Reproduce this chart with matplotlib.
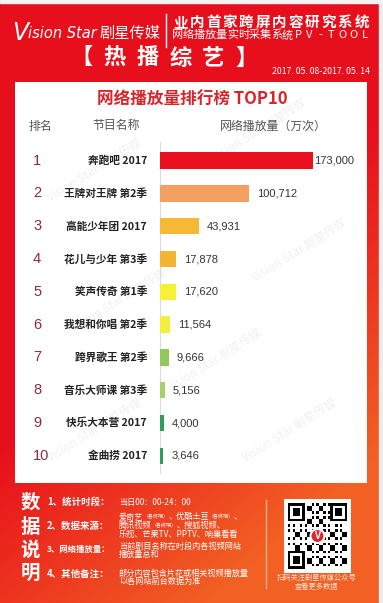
import numpy as np
import matplotlib
matplotlib.use("Agg")
import matplotlib.pyplot as plt
from matplotlib.patches import Rectangle, Circle
from matplotlib.transforms import blended_transform_factory

plt.rcParams['font.family'] = ['Noto Sans CJK SC', 'DejaVu Sans']

# ---------------- data ----------------
ranks = ["1", "2", "3", "4", "5", "6", "7", "8", "9", "10"]
shows = ["奔跑吧 2017", "王牌对王牌 第2季", "高能少年团 2017", "花儿与少年 第3季",
         "笑声传奇 第1季", "我想和你唱 第2季", "跨界歌王 第2季", "音乐大师课 第3季",
         "快乐大本营 2017", "金曲捞 2017"]
views = [173000, 100712, 43931, 17878, 17620, 11564, 9666, 5156, 4000, 3646]
bar_colors = ["#ea0f1e", "#f4a060", "#f6b935", "#f4b534", "#f6f036", "#f4ee3c",
              "#93c95a", "#a6d06c", "#2f9e5c", "#2f9e5c"]

header_cols = ["排名", "节目名称", "网络播放量（万次）"]
chart_title = "网络播放量排行榜 TOP10"
section_title = "【热播综艺】"
date_range = "2017. 05. 08-2017. 05. 14"
brand_v = "V"
brand_rest = "ision Star "
brand_cn = "剧星传媒"
slogan1 = "业内首家跨屏内容研究系统"
slogan2 = "网络播放量实时采集系统PV-TOOL"
notes_title = ["数", "据", "说", "明"]
note_labels = ["1、统计时段：", "2、数据来源：", "3、网络播放量：", "4、其他备注："]
# each line is a list of (text, is_small) runs
note_texts = [
    [[("当日00：00-24：00", False)]],
    [[("爱奇艺", False), ("（各终端）", True), ("、优酷土豆", False), ("（各终端）", True), ("、", False)],
     [("腾讯视频", False), ("（各终端）", True), ("、搜狐视频、", False)],
     [("乐视、芒果TV、PPTV、响巢看看", False)]],
    [[("当前剧目名称在时段内各视频网站", False)], [("播放量总和", False)]],
    [[("部分内容包含片花或相关视频播放量", False)], [("以各网站前台数据为准", False)]],
]
qr_caption = ["扫码关注剧星传媒公众号", "查看更多数据"]
watermark = "Vision Star 剧星传媒"

# ---------------- figure ----------------
W, H = 383, 603
fig = plt.figure(figsize=(W / 100, H / 100), dpi=100)
renderer = fig.canvas.get_renderer()


def P(x, y):
    return (x / W, 1 - y / H)


def runs(x, y, pieces, **common):
    for txt, kw in pieces:
        t = fig.text(*P(x, y), txt, ha="left", va="center", **{**common, **kw})
        x += t.get_window_extent(renderer=renderer).width
    return x


def spaced(s, x0, x1, y, **kw):
    n = len(s)
    for k, ch in enumerate(s):
        fig.text(*P(x0 + (x1 - x0) * (k + 0.5) / n, y), ch, ha="center", va="center", **kw)


# background gradient
bg = fig.add_axes([0, 0, 1, 1])
bg.set_axis_off()
yy, xx = np.mgrid[0:H, 0:W]
t = np.clip((0.55 * xx / W + yy / H - 0.75) / 0.55, 0, 1)
red = np.array([0.91, 0.06, 0.11])
orange = np.array([0.95, 0.38, 0.14])
img = red[None, None, :] * (1 - t[..., None]) + orange[None, None, :] * t[..., None]
bg.imshow(img, extent=[0, W, H, 0], aspect='auto', zorder=0)
bg.add_patch(Rectangle((379, 0), 4, H, color="#ececec", zorder=1))
bg.add_patch(Rectangle((0, 0), W, 2.5, color="#f2f2f2", zorder=1))
panel = Rectangle((15, 82), 352, 401, facecolor="white", edgecolor="none", zorder=2)
bg.add_patch(panel)

# faint watermarks inside the panel
for (wx, wy) in [(95, 170), (260, 130), (120, 300), (300, 250), (215, 360), (95, 430), (290, 430)]:
    wt = bg.text(wx, wy, watermark, color="#f1f1f1", fontsize=8.5, rotation=32,
                 ha="center", va="center", style="italic", zorder=2.5)
    wt.set_clip_path(panel)

# header: brand + slogans
xb = runs(12, 33, [(brand_v, dict(fontsize=17)), (brand_rest, dict(fontsize=10.5))],
          color="white", style="italic", family=['DejaVu Sans'])
runs(xb - 2, 33.5, [(brand_cn, dict(fontsize=11))], color="white", style="italic")
bg.plot([166, 166], [14, 47], color="white", lw=1, zorder=3)

spaced(slogan1, 172, 370, 22, color="white", fontsize=10.5, fontweight="bold")
spaced(slogan2, 172, 370, 35, color="white", fontsize=8)
spaced(section_title, 65, 263, 58, color="white", fontsize=16, fontweight="heavy")
fig.text(*P(272, 72), date_range, color="white", fontsize=6.3, ha="left", va="center")

# chart title and header row
fig.text(*P(192, 100), chart_title, color="#d6262c", fontsize=12, fontweight="heavy",
         ha="center", va="center")
for label, cx in zip(header_cols, [40, 116, 273]):
    fig.text(*P(cx, 126), label, color="#555555", fontsize=8.6, ha="center", va="center")

# bar axes
px_per_unit = 153.0 / 173000
ax_left, ax_right, ax_top, ax_bot = 160, 360, 142, 473
ax = fig.add_axes([ax_left / W, 1 - ax_bot / H, (ax_right - ax_left) / W, (ax_bot - ax_top) / H])
ax.patch.set_alpha(0)
row_h = 32.8
row0 = 160.7
ax.set_ylim((ax_bot - row0) / row_h, (ax_top - row0) / row_h)
ax.set_xlim(0, (ax_right - ax_left) / px_per_unit)
ypos = np.arange(len(views))
ax.barh(ypos, views, height=0.5, color=bar_colors, zorder=3)
for s in ["top", "right", "bottom"]:
    ax.spines[s].set_visible(False)
ax.spines["left"].set_color("#dcdcdc")
ax.spines["left"].set_linewidth(0.8)
ax.set_xticks([])
ax.set_yticks([])

tr = blended_transform_factory(fig.transFigure, ax.transData)
for i, (r, name, v) in enumerate(zip(ranks, shows, views)):
    ax.text(33 / W, i, r, transform=tr, color="#8a2b3e", fontsize=10.5, ha="left", va="center",
            family=["Liberation Sans"])
    ax.text(147 / W, i, name, transform=tr, color="#222222", fontsize=7.7, fontweight="bold",
            ha="right", va="center")
    pad = 1 if i == 0 else 6
    ax.annotate(f"{v:,}", (v, i), xytext=(pad, 0), textcoords="offset points",
                color="#333333", fontsize=8, ha="left", va="center", annotation_clip=False,
                family=["Liberation Sans"])

# notes section
for ch, y in zip(notes_title, [503, 527, 550, 573]):
    fig.text(*P(30, y), ch, color="white", fontsize=14, fontweight="heavy", ha="center", va="center")

label_y = [502, 526, 549, 574]
text_y = [[502], [517, 525.5, 534], [546, 554.5], [573, 581.5]]
for lab, ly, lines, tys in zip(note_labels, label_y, note_texts, text_y):
    fs = min(6.8, 67 / len(lab) / 1.39)
    fig.text(*P(47, ly), lab, color="white", fontsize=fs, fontweight="bold", ha="left", va="center")
    for line, ty in zip(lines, tys):
        runs(119, ty, [(txt, dict(fontsize=3.6 if small else 5.9)) for txt, small in line],
             color="white")

bg.plot([266, 266], [500, 588], color="#f7b08a", lw=1, zorder=3)

# QR code (decorative)
qx0, qy0, qs = 284, 499, 67
bg.add_patch(Rectangle((qx0, qy0), qs, 74, facecolor="white", zorder=3))
n = 25
ii, jj = np.mgrid[0:n, 0:n]
mod = ((ii * 7 + jj * 13 + ii * jj * 3) % 5 < 2).astype(float)
for (fi, fj) in [(0, 0), (0, n - 7), (n - 7, 0)]:
    mod[fi:fi + 8, fj:fj + 8] = 0
    sub = np.zeros((7, 7))
    sub[0, :] = sub[-1, :] = sub[:, 0] = sub[:, -1] = 1
    sub[2:5, 2:5] = 1
    mod[fi:fi + 7, fj:fj + 7] = sub
qimg = np.dstack([1 - mod] * 3)
bg.imshow(qimg, extent=[qx0 + 4, qx0 + qs - 4, qy0 + 70, qy0 + 4], interpolation="nearest",
          zorder=4, aspect="auto")
bg.add_patch(Circle((qx0 + qs / 2, qy0 + 37), 7, facecolor="#e0262c", edgecolor="white", lw=1.5, zorder=5))
bg.text(qx0 + qs / 2, qy0 + 37, "V", color="white", fontsize=7, style="italic", fontweight="bold",
        ha="center", va="center", zorder=6)
bg.set_xlim(0, W)
bg.set_ylim(H, 0)
for cap, cy in zip(qr_caption, [578, 586.5]):
    fig.text(*P(317, cy), cap, color="#fde6d8", fontsize=5.2, ha="center", va="center")

fig.savefig("out.png", dpi=100)
